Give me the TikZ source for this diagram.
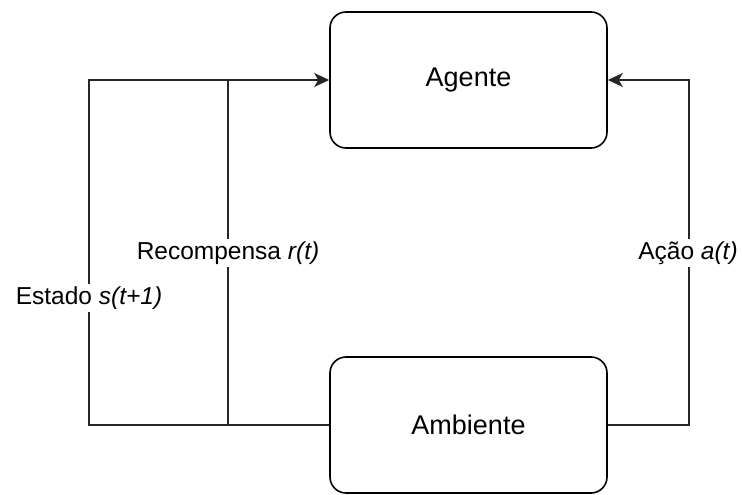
\documentclass[tikz,border=0pt]{standalone}
\usepackage{fontspec}
\setmainfont{Liberation Sans}
\usetikzlibrary{arrows.meta, positioning, calc}

\begin{document}
\begin{tikzpicture}[x=1pt, y=-1pt, font=\fontsize{24.5}{29}\selectfont,
	caixa/.style={draw, rounded corners=16pt, minimum width=277pt,
		minimum height=136pt, line width=1.6pt, font=\fontsize{27}{32}\selectfont},
	fio/.style={line width=1.6pt, draw=black!85},
	seta/.style={fio, -{Stealth[length=15pt, width=14pt, inset=4pt]}},
	rotulo/.style={fill=white, inner sep=3pt}]
	\useasboundingbox (0,0) rectangle (742,495);

	% blocos
	\node[caixa] (agente) at (468.5,80) {Agente};
	\node[caixa] (ambiente) at (468.5,425) {Ambiente};

	% colunas dos laços
	\coordinate (esq) at (89,0);
	\coordinate (meio) at (228,0);
	\coordinate (dir) at (689,0);

	% estado e recompensa
	\draw[seta] (ambiente.west) -| (esq |- agente.west) -- (agente.west);
	\draw[fio] (meio |- ambiente.west) -- (meio |- agente.west);

	% ação
	\draw[seta] (ambiente.east) -| (dir |- agente.east) -- (agente.east);

	% rótulos
	\node[rotulo] (recompensa) at (228,253) {Recompensa \textit{r(t)}};
	\node[rotulo] (estado) at (89,298) {Estado \textit{s(t+1)}};
	\node[rotulo] (acao) at (688,253) {Ação \textit{a(t)}};
\end{tikzpicture}
\end{document}
